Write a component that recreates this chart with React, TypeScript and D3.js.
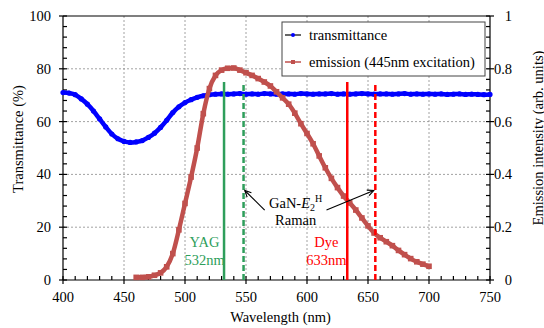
import * as d3 from 'd3';

// transmittance (%), every 5 nm from 400 to 750
const transWl = [
  400, 405, 410, 415, 420, 425, 430, 435, 440, 445, 450, 455, 460, 465, 470, 475, 480, 485, 490, 495,
  500, 505, 510, 515, 520, 525, 530, 535, 540, 545, 550, 555, 560, 565, 570, 575, 580, 585, 590, 595,
  600, 605, 610, 615, 620, 625, 630, 635, 640, 645, 650, 655, 660, 665, 670, 675, 680, 685, 690, 695,
  700, 705, 710, 715, 720, 725, 730, 735, 740, 745, 750,
];
const transVal = [
  71.0, 70.8, 70.2, 68.6, 66.6, 64.0, 61.0, 58.0, 55.3, 53.5, 52.5, 52.1, 52.3, 52.8, 54.0, 55.6, 57.8, 60.5, 63.4, 65.6,
  67.2, 68.3, 69.2, 69.8, 70.2, 70.4, 70.5, 70.4, 70.5, 70.6, 70.4, 70.5, 70.4, 70.6, 70.5, 70.4, 70.5, 70.5, 70.4, 70.6,
  70.5, 70.4, 70.5, 70.5, 70.6, 70.4, 70.5, 70.4, 70.5, 70.6, 70.5, 70.4, 70.5, 70.5, 70.4, 70.5, 70.6, 70.4, 70.5, 70.4,
  70.5, 70.4, 70.5, 70.3, 70.4, 70.5, 70.3, 70.4, 70.3, 70.2, 70.3,
];

// emission intensity (arb. units), every 5 nm from 460 to 700
const emisWl = [
  460, 465, 470, 475, 480, 485, 490, 495, 500, 505, 510, 515, 520, 525, 530, 535, 540, 545, 550, 555,
  560, 565, 570, 575, 580, 585, 590, 595, 600, 605, 610, 615, 620, 625, 630, 635, 640, 645, 650, 655,
  660, 665, 670, 675, 680, 685, 690, 695, 700,
];
const emisVal = [
  0.010, 0.010, 0.012, 0.018, 0.027, 0.050, 0.100, 0.190, 0.290, 0.390, 0.500, 0.630, 0.725, 0.775, 0.795, 0.802, 0.803, 0.795, 0.785, 0.775,
  0.763, 0.750, 0.735, 0.713, 0.690, 0.666, 0.632, 0.592, 0.555, 0.516, 0.470, 0.425, 0.385, 0.350, 0.318, 0.292, 0.265, 0.235, 0.205, 0.178,
  0.160, 0.145, 0.130, 0.112, 0.096, 0.081, 0.069, 0.060, 0.052,
];

// laser / Raman lines
const laserWl = [532, 548, 633, 656];
const laserColor = ['#2e9e5b', '#2e9e5b', '#ff0000', '#ff0000'];
const laserDashed = [false, true, false, true];
const laserTop = 75;

const xTicks = [400, 450, 500, 550, 600, 650, 700, 750];
const yTicks = [0, 20, 40, 60, 80, 100];
const y2Ticks = [0, 0.2, 0.4, 0.6, 0.8, 1];

// arrows: [from nm, from %, to nm, to %]
const arrows = [[565.3, 26.5, 549, 33.9], [616, 26.5, 654.7, 33.9]];

const fontStyle = { fontFamily: "'Liberation Serif'", fontSize: 14.5 };

const left = 63, right = 490, top = 16, bottom = 280;
const x = d3.scaleLinear().domain([400, 750]).range([left, right]);
const y = d3.scaleLinear().domain([0, 100]).range([bottom, top]);
const y2 = d3.scaleLinear().domain([0, 1]).range([bottom, top]);

type P = [number, number];

export default function App() {
  const tData: P[] = transWl.map((w, i) => [w, transVal[i]]);
  const eData: P[] = emisWl.map((w, i) => [w, emisVal[i]]);
  const tLine = d3.line<P>().x(d => x(d[0])).y(d => y(d[1])).curve(d3.curveMonotoneX);
  const eLine = d3.line<P>().x(d => x(d[0])).y(d => y2(d[1])).curve(d3.curveMonotoneX);

  const xMinor = d3.range(400, 751, 10);
  const yMinor = d3.range(0, 101, 4);

  return (
    <svg width={544} height={328} style={{ position: 'absolute', left: 0, top: 0, background: 'white' }}>
      {/* grid */}
      <g stroke="#8a8a8a" strokeWidth={0.8} strokeDasharray="2,2">
        {xTicks.slice(1, -1).map(t => <line key={'gx' + t} x1={x(t)} x2={x(t)} y1={top} y2={bottom} />)}
        {yTicks.slice(1, -1).map(t => <line key={'gy' + t} x1={left} x2={right} y1={y(t)} y2={y(t)} />)}
      </g>

      {/* frame + ticks */}
      <g stroke="#000" strokeWidth={1.2}>
        <line x1={left} x2={left} y1={top} y2={bottom} />
        <line x1={right} x2={right} y1={top} y2={bottom} />
        <line x1={left} x2={right} y1={bottom} y2={bottom} />
        <line x1={left} x2={right} y1={top} y2={top} />
        {xMinor.map(t => (
          <line key={'tx' + t} x1={x(t)} x2={x(t)} y1={bottom - 4} y2={t % 50 === 0 ? bottom + 4 : bottom} />
        ))}
        {yMinor.map(t => (
          <g key={'ty' + t}>
            <line x1={t % 20 === 0 ? left - 4 : left} x2={left + 4} y1={y(t)} y2={y(t)} />
            <line x1={right - 4} x2={t % 20 === 0 ? right + 4 : right} y1={y(t)} y2={y(t)} />
          </g>
        ))}
      </g>

      {/* tick labels + titles */}
      <g style={fontStyle} fill="#000">
        {xTicks.map(t => <text key={'lx' + t} x={x(t)} y={bottom + 22} textAnchor="middle">{t}</text>)}
        {yTicks.map(t => <text key={'ly' + t} x={left - 12} y={y(t) + 5} textAnchor="end">{t}</text>)}
        {y2Ticks.map(t => <text key={'ly2' + t} x={right + 22} y={y2(t) + 5} textAnchor="end">{t}</text>)}
        <text x={(left + right) / 2 + 4} y={322} textAnchor="middle">Wavelength (nm)</text>
        <text transform="translate(23,139) rotate(-90)" textAnchor="middle">Transmittance (%)</text>
        <text transform="translate(543,138) rotate(-90)" textAnchor="middle">Emission intensity (arb. units)</text>
      </g>

      {/* transmittance */}
      <path d={tLine(tData) ?? ''} fill="none" stroke="#0000ff" strokeWidth={4.5} />
      {tData.map(d => <circle key={'c' + d[0]} cx={x(d[0])} cy={y(d[1])} r={2.6} fill="#0000ff" />)}

      {/* emission */}
      <path d={eLine(eData) ?? ''} fill="none" stroke="#c0504d" strokeWidth={4.5} />
      {eData.map(d => (
        <rect key={'s' + d[0]} x={x(d[0]) - 2.8} y={y2(d[1]) - 2.8} width={5.6} height={5.6} fill="#c0504d" />
      ))}

      {/* laser lines */}
      {laserWl.map((w, i) => (
        <line key={'l' + w} x1={x(w)} x2={x(w)} y1={y(0)} y2={y(laserTop)}
          stroke={laserColor[i]} strokeWidth={2.5} strokeDasharray={laserDashed[i] ? '6,3' : undefined} />
      ))}

      {/* annotations */}
      <g style={fontStyle} textAnchor="middle">
        <text x={x(516)} y={y(14.5) + 5} fill="#2e9e5b">YAG</text>
        <text x={x(516)} y={y(7.6) + 5} fill="#2e9e5b">532nm</text>
        <text x={x(615.8)} y={y(14.5) + 5} fill="#ff0000">Dye</text>
        <text x={x(615.8)} y={y(7.6) + 5} fill="#ff0000">633nm</text>
        <text x={x(590.7)} y={y(29.2) + 5} fill="#000">
          GaN-<tspan fontStyle="italic">E</tspan>
          <tspan fontSize={10} dy={3}>2</tspan>
          <tspan fontSize={10} dy={-9}>H</tspan>
        </text>
        <text x={x(590.7)} y={y(22.8) + 5} fill="#000">Raman</text>
      </g>

      {arrows.map((a, i) => {
        const x1 = x(a[0]), y1 = y(a[1]), x2 = x(a[2]), yy2 = y(a[3]);
        const ang = Math.atan2(yy2 - y1, x2 - x1);
        const h = 7, s = 0.45;
        return (
          <g key={'a' + i} stroke="#000" strokeWidth={1.1} fill="none">
            <line x1={x1} y1={y1} x2={x2} y2={yy2} />
            <path d={`M${x2 - h * Math.cos(ang - s)},${yy2 - h * Math.sin(ang - s)}L${x2},${yy2}L${x2 - h * Math.cos(ang + s)},${yy2 - h * Math.sin(ang + s)}`} />
          </g>
        );
      })}

      {/* legend */}
      <g>
        <rect x={282} y={22} width={203} height={54} fill="white" stroke="#444" strokeWidth={1} />
        <line x1={285} x2={301} y1={35} y2={35} stroke="#000" strokeWidth={1.2} />
        <circle cx={293} cy={35} r={2} fill="#0000ff" />
        <line x1={285} x2={301} y1={62} y2={62} stroke="#c0504d" strokeWidth={1.5} />
        <rect x={291} y={60} width={4} height={4} fill="#c0504d" />
        <text x={309} y={40} style={fontStyle}>transmittance</text>
        <text x={309} y={67} style={fontStyle}>emission (445nm excitation)</text>
      </g>
    </svg>
  );
}
